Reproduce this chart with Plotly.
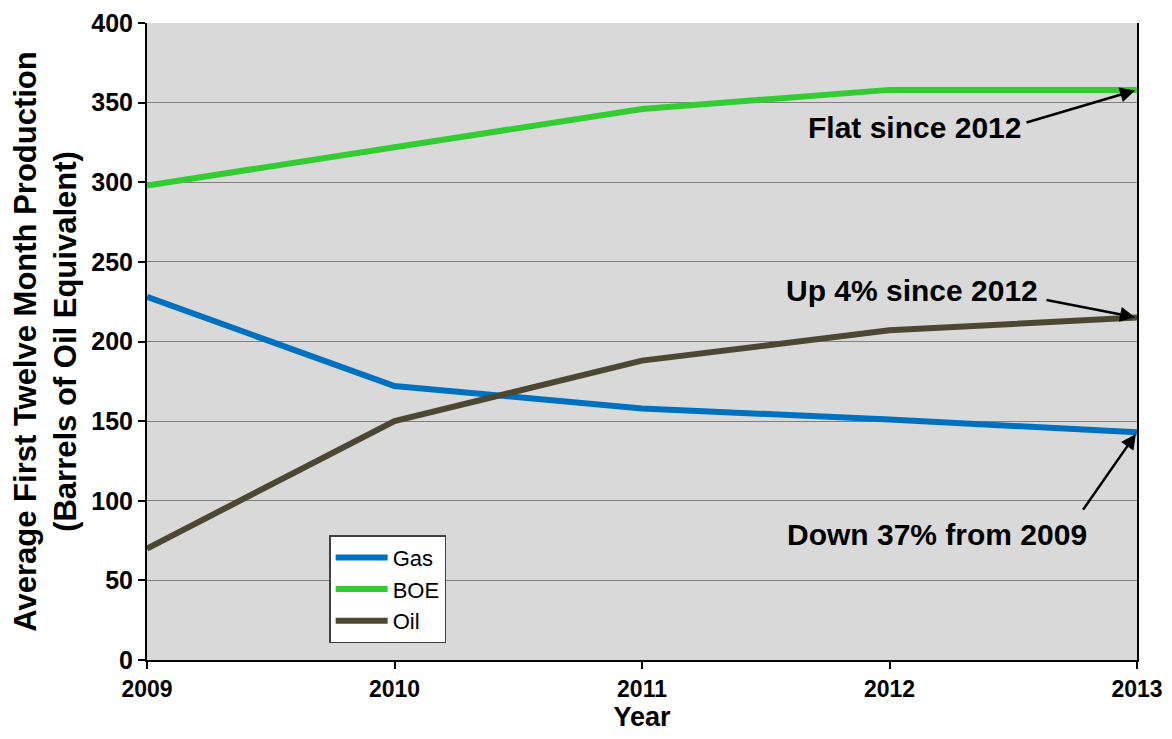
import plotly.graph_objects as go

# Data
years = [2009, 2010, 2011, 2012, 2013]
gas = [228, 172, 158, 151, 143]
boe = [298, 322, 346, 358, 358]
oil = [70, 150, 188, 207, 215]

series = [("Gas", gas, "#0070C0"), ("BOE", boe, "#33CC33"), ("Oil", oil, "#4B4732")]

fig = go.Figure()
for name, vals, color in series:
    fig.add_trace(go.Scatter(x=years, y=vals, mode="lines", name=name,
                             line=dict(color=color, width=6)))

bold = "Liberation Sans"
narrow = "Liberation Sans Narrow, Liberation Sans"

# page body adds an 8px margin, so the figure is a bit smaller than the window
fig.update_layout(
    width=1164, height=731,
    margin=dict(l=139, r=35, t=15, b=79),
    paper_bgcolor="white",
    plot_bgcolor="#D9D9D9",
    font=dict(family=bold, color="black"),
    showlegend=True,
    legend=dict(x=0.184, y=0.196, xanchor="left", yanchor="top",
                bgcolor="white", bordercolor="#404040", borderwidth=1.5,
                font=dict(size=22, family="Liberation Sans"),
                tracegroupgap=2, itemwidth=52),
)

fig.update_xaxes(
    range=[2009, 2013], tickvals=years, ticktext=[str(y) for y in years],
    tickfont=dict(size=23, family=narrow, weight="bold"),
    ticks="outside", ticklen=7, tickcolor="black", tickwidth=1.5,
    showline=True, linecolor="black", linewidth=2, showgrid=False, zeroline=False,
    automargin=False,
    title=dict(text="Year", font=dict(size=27, family=narrow, weight="bold"), standoff=2),
)
fig.update_yaxes(
    range=[0, 400], dtick=50,
    tickfont=dict(size=25, family=bold, weight="bold"),
    ticks="outside", ticklen=7, tickcolor="black", tickwidth=1.5,
    showline=True, linecolor="black", linewidth=2, mirror=True,
    showgrid=True, gridcolor="#808080", gridwidth=1, zeroline=False,
    automargin=False,
    title=dict(text="Average First Twelve Month Production<br>(Barrels of Oil Equivalent)",
               font=dict(size=31, family=bold, weight="bold"), standoff=6),
)

# Callout texts
notes = [("Flat since 2012", 2012.10, 334.5),
         ("Up 4% since 2012", 2012.09, 232.0),
         ("Down 37% from 2009", 2012.19, 78.5)]
for txt, xx, yy in notes:
    fig.add_annotation(x=xx, y=yy, text=txt, showarrow=False,
                       font=dict(size=30, family=bold, weight="bold", color="black"))

# Arrows pointing to the 2013 values
arrows = [(2013, boe[-1], -112, 33), (2013, oil[-1], -92, -18), (2013, gas[-1], -55, 79)]
for xx, yy, ax, ay in arrows:
    fig.add_annotation(x=xx, y=yy, text="", showarrow=True, ax=ax, ay=ay,
                       arrowhead=2, arrowsize=1.2, arrowwidth=2.5, arrowcolor="black",
                       standoff=2)

fig.write_html("out.html")
